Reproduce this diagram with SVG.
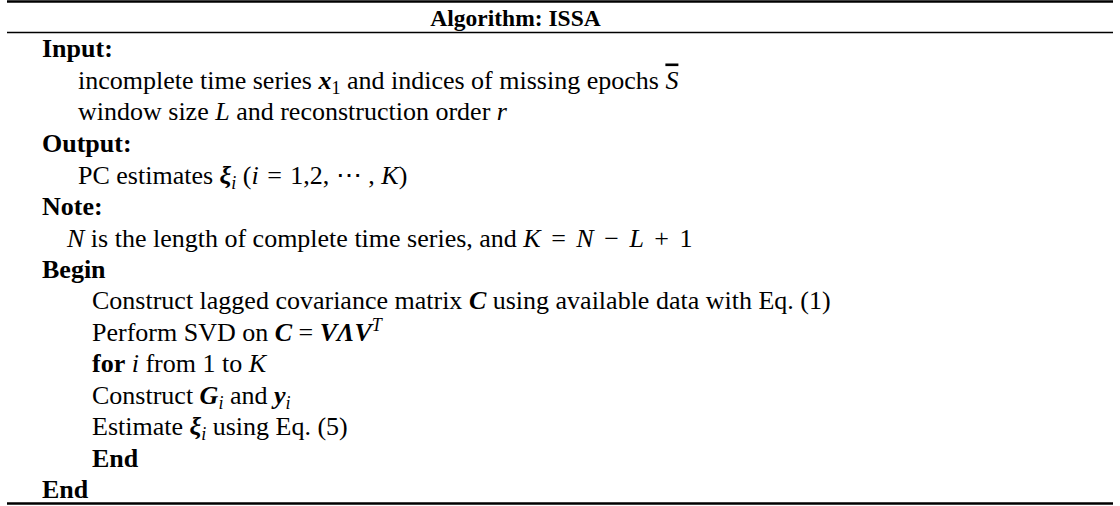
<svg xmlns="http://www.w3.org/2000/svg" width="1120" height="506" viewBox="0 0 1120 506">
<style>
text{font-family:"Liberation Serif","Times New Roman",serif;font-size:26px;fill:#000}
.b{font-weight:bold}
.m{font-style:italic}
.mb{font-style:italic;font-weight:bold}
.s{font-size:18px}
.rule{stroke:#000}
</style>
<rect width="1120" height="506" fill="#fff"/>
<g id="rules">
<line class="rule" x1="7" y1="1.5" x2="1113" y2="1.5" stroke-width="2.5"/>
<line class="rule" x1="7" y1="32.5" x2="1113" y2="32.5" stroke-width="1.5"/>
<line class="rule" x1="7" y1="503.5" x2="1113" y2="503.5" stroke-width="2.5"/>
</g>
<g id="header"><text class="b" x="515.5" y="26" text-anchor="middle" style="font-size:23.5px">Algorithm: ISSA</text></g>
<g id="input">
<text class="b" x="42" y="57">Input:</text>
<text x="78" y="88.5">incomplete time series <tspan class="mb">x</tspan><tspan class="s" dy="5">1</tspan><tspan dy="-5"> and indices of missing epochs </tspan><tspan class="m" text-decoration="overline">S</tspan></text>
<text x="78" y="120">window size <tspan class="m">L</tspan> and reconstruction order <tspan class="m">r</tspan></text>
</g>
<g id="output">
<text class="b" x="42" y="152">Output:</text>
<text x="78" y="183.5">PC estimates <tspan class="mb">ξ</tspan><tspan class="m s" dy="5">i</tspan><tspan dy="-5"> (<tspan class="m">i</tspan> <tspan dx="2">=</tspan> <tspan dx="2">1,2,</tspan> ⋯ , <tspan class="m">K</tspan>)</tspan></text>
</g>
<g id="note">
<text class="b" x="42" y="215">Note:</text>
<text x="67" y="246.5"><tspan class="m">N</tspan> is the length of complete time series, and <tspan class="m">K</tspan> <tspan dx="4">=</tspan> <tspan class="m" dx="4">N</tspan> <tspan dx="4">−</tspan> <tspan class="m" dx="4">L</tspan> <tspan dx="4">+</tspan> <tspan dx="4">1</tspan></text>
</g>
<g id="begin">
<text class="b" x="42" y="278">Begin</text>
<text x="92" y="309">Construct lagged covariance matrix <tspan class="mb">C</tspan> using available data with Eq. (1)</text>
<text x="92" y="340.5">Perform SVD on <tspan class="mb">C</tspan> = <tspan class="mb">VΛV</tspan><tspan class="m s" dy="-10">T</tspan></text>
<text x="92" y="372"><tspan class="b">for</tspan> <tspan class="m">i</tspan> from 1 to <tspan class="m">K</tspan></text>
<text x="92" y="403.5">Construct <tspan class="mb">G</tspan><tspan class="m s" dy="5">i</tspan><tspan dy="-5"> and </tspan><tspan class="mb">y</tspan><tspan class="m s" dy="5">i</tspan></text>
<text x="92" y="435">Estimate <tspan class="mb">ξ</tspan><tspan class="m s" dy="5">i</tspan><tspan dy="-5"> using Eq. (5)</tspan></text>
<text class="b" x="92" y="466.5">End</text>
<text class="b" x="42" y="498">End</text>
</g>
</svg>
